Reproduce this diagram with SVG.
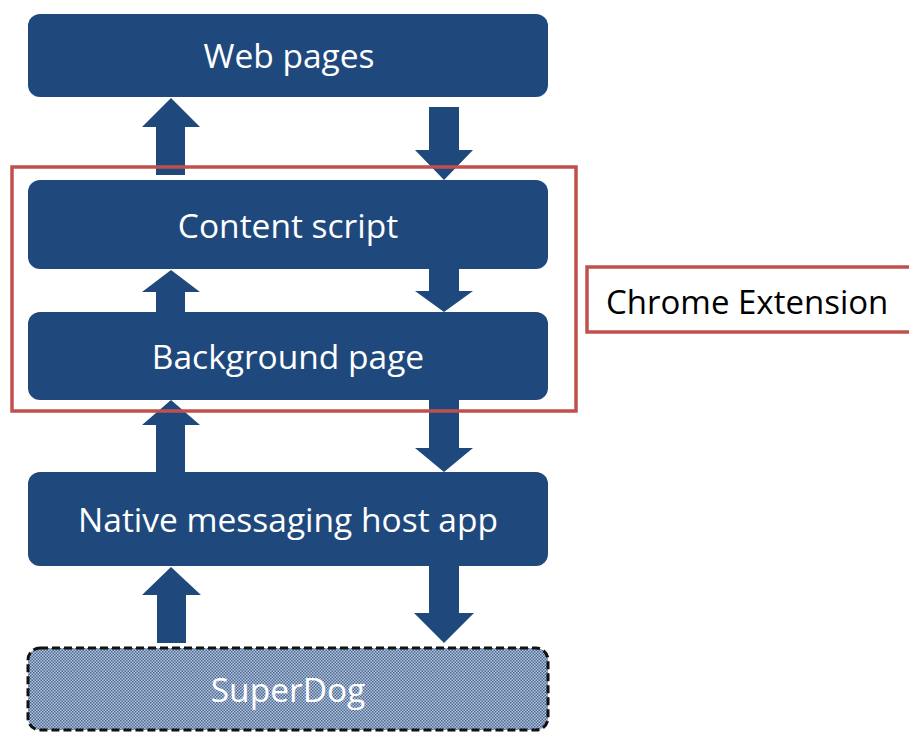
<svg xmlns="http://www.w3.org/2000/svg" width="909" height="732" viewBox="0 0 909 732">
<style>
.box{fill:#1f497d;}
.lbl{font-family:"Open Sans","Liberation Sans",sans-serif;font-size:33.5px;fill:#ffffff;text-anchor:middle;dominant-baseline:central;}
.arr{fill:#1f497d;}
.frame{fill:none;stroke:#c0504d;stroke-width:3.5;}
</style>
<defs>
<pattern id="dots" width="3" height="3" patternUnits="userSpaceOnUse">
<rect width="3" height="3" fill="#b9c7dc"/>
<rect x="0" y="0" width="1.5" height="1.5" fill="#4a6894"/>
<rect x="1.5" y="1.5" width="1.5" height="1.5" fill="#4a6894"/>
</pattern>
</defs>
<rect width="909" height="732" fill="#ffffff"/>
<g id="connectors">
<polygon class="arr" points="156,175 156,127 142,127 171,98 200,127 185,127 185,175"/>
<polygon class="arr" points="429,107 459,107 459,150 473,150 444,180 415,150 429,150"/>
<polygon class="arr" points="156,312 156,292 142,292 171,270 200,292 185,292 185,312"/>
<polygon class="arr" points="429,269 459,269 459,291 473,291 444,312 415,291 429,291"/>
<polygon class="arr" points="156,472 156,425 142,425 171,400 200,425 185,425 185,472"/>
<polygon class="arr" points="429,400 459,400 459,448 473,448 444,472 415,448 429,448"/>
<polygon class="arr" points="157,643 157,595 142,595 171,567 201,595 186,595 186,643"/>
<polygon class="arr" points="429,566 459,566 459,613 474,613 444,643 414,613 429,613"/>
</g>
<g id="web-pages">
<rect class="box" x="28" y="14" width="520" height="83" rx="12"/>
<text class="lbl" x="289" y="55">Web pages</text>
</g>
<g id="content-script">
<rect class="box" x="28" y="180" width="520" height="89" rx="12"/>
<text class="lbl" x="288" y="225">Content script</text>
</g>
<g id="background-page">
<rect class="box" x="28" y="312" width="520" height="88" rx="12"/>
<text class="lbl" x="288" y="356">Background page</text>
</g>
<g id="native-host">
<rect class="box" x="28" y="472" width="520" height="94" rx="12"/>
<text class="lbl" x="288" y="519">Native messaging host app</text>
</g>
<g id="superdog">
<rect x="28" y="648" width="520" height="82" rx="12" fill="url(#dots)" stroke="#111111" stroke-width="3" stroke-dasharray="8,4"/>
<text class="lbl" x="288" y="689" fill="#e6ecf7">SuperDog</text>
</g>
<g id="chrome-extension-frame">
<rect class="frame" x="12" y="167" width="564" height="244"/>
</g>
<g id="chrome-extension-label">
<rect class="frame" x="587" y="267" width="330" height="65"/>
<text x="606" y="301" font-family="'Open Sans','Liberation Sans',sans-serif" font-size="33" fill="#000000" dominant-baseline="central">Chrome Extension</text>
</g>
</svg>
